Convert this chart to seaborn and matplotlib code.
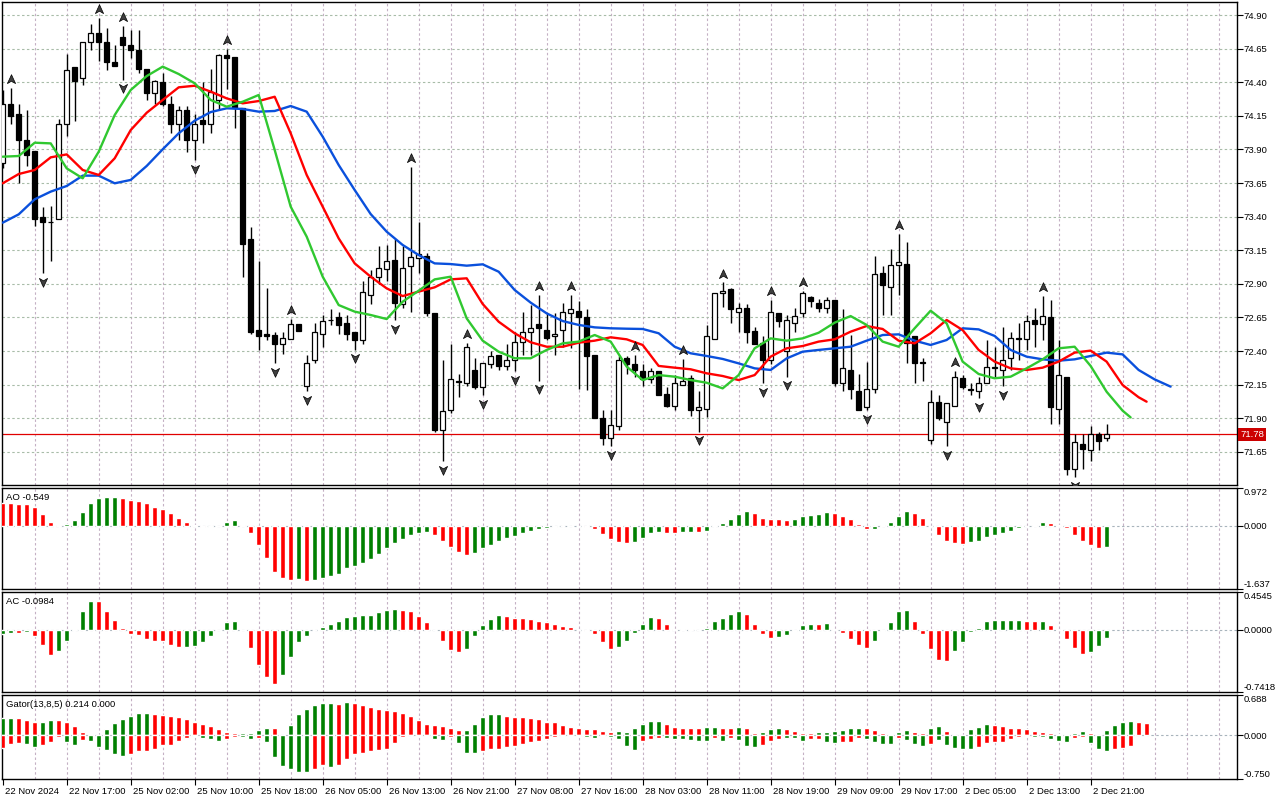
import numpy as np
import pandas as pd
import seaborn as sns
import matplotlib.pyplot as plt
from matplotlib.path import Path
from matplotlib.transforms import ScaledTranslation, blended_transform_factory

sns.set_style("white")
plt.rcParams['font.family'] = ['Liberation Sans', 'DejaVu Sans']

# hourly candles
opens = [73.80, 74.24, 74.16, 73.97, 73.89, 73.40, 73.36, 73.38, 74.09, 74.51,
         74.43, 74.70, 74.77, 74.70, 74.55, 74.74, 74.68, 74.64, 74.50, 74.32,
         74.40, 74.24, 74.09, 74.19, 73.97, 74.12, 74.09, 74.27, 74.60, 74.59,
         74.21, 73.23, 72.56, 72.53, 72.52, 72.45, 72.49, 72.60, 72.14, 72.33,
         72.53, 72.63, 72.65, 72.61, 72.54, 72.48, 72.82, 72.95, 73.01, 73.08,
         72.75, 73.03, 73.09, 73.11, 72.68, 71.81, 71.96, 72.18, 72.16, 72.26,
         72.13, 72.30, 72.37, 72.29, 72.33, 72.47, 72.54, 72.60, 72.56, 72.51,
         72.56, 72.68, 72.70, 72.65, 72.37, 71.90, 71.75, 71.84, 72.35, 72.30,
         72.25, 72.19, 72.25, 72.08, 71.99, 72.15, 72.20, 71.96, 71.97, 72.49,
         72.83, 72.86, 72.69, 72.72, 72.55, 72.46, 72.33, 72.68, 72.40, 72.61,
         72.68, 72.80, 72.76, 72.72, 72.78, 72.16, 72.26, 72.10, 71.98, 72.12,
         72.98, 72.88, 73.04, 73.05, 72.51, 72.32, 71.74, 72.02, 71.87, 71.99,
         72.20, 72.12, 72.10, 72.16, 72.27, 72.26, 72.35, 72.50, 72.49, 72.63,
         72.60, 72.65, 71.97, 72.21, 71.52, 71.71, 71.66, 71.78, 71.75]
highs = [74.34, 74.36, 74.24, 74.19, 73.89, 73.47, 73.48, 74.13, 74.61, 74.51,
         74.70, 74.83, 74.88, 74.80, 74.68, 74.82, 74.79, 74.79, 74.50, 74.42,
         74.47, 74.30, 74.22, 74.22, 74.16, 74.40, 74.50, 74.61, 74.65, 74.59,
         74.21, 73.32, 73.07, 72.87, 72.54, 72.54, 72.64, 72.60, 72.37, 72.61,
         72.67, 72.71, 72.69, 72.67, 72.54, 72.92, 73.00, 73.18, 73.19, 73.23,
         73.18, 73.77, 73.36, 73.13, 72.68, 72.33, 72.45, 72.23, 72.46, 72.35,
         72.31, 72.40, 72.37, 72.45, 72.54, 72.69, 72.74, 72.82, 72.68, 72.68,
         72.76, 72.82, 72.77, 72.71, 72.37, 71.96, 71.96, 72.36, 72.36, 72.37,
         72.30, 72.27, 72.25, 72.13, 72.22, 72.34, 72.22, 72.10, 72.59, 72.83,
         72.91, 72.87, 72.76, 72.75, 72.58, 72.51, 72.78, 72.68, 72.67, 72.72,
         72.85, 72.81, 72.79, 72.80, 72.78, 72.71, 72.52, 72.23, 72.32, 73.11,
         73.03, 73.16, 73.27, 73.21, 72.51, 72.35, 72.11, 72.07, 72.01, 72.25,
         72.22, 72.16, 72.21, 72.48, 72.43, 72.58, 72.54, 72.61, 72.67, 72.72,
         72.81, 72.78, 72.48, 72.21, 71.78, 71.78, 71.84, 71.80, 71.86]
lows = [73.76, 74.09, 73.65, 73.78, 73.33, 72.98, 73.07, 73.38, 74.00, 74.11,
        74.38, 74.64, 74.56, 74.49, 74.52, 74.42, 74.58, 74.47, 74.27, 74.24,
        74.22, 74.02, 73.97, 73.88, 73.82, 73.95, 74.02, 74.19, 74.35, 74.06,
        72.95, 72.53, 72.41, 72.48, 72.31, 72.38, 72.49, 72.55, 72.10, 72.31,
        72.43, 72.59, 72.53, 72.48, 72.41, 72.45, 72.75, 72.90, 72.92, 72.63,
        72.72, 72.69, 72.98, 72.66, 71.80, 71.58, 71.94, 72.06, 72.14, 72.12,
        72.07, 72.27, 72.26, 72.26, 72.25, 72.37, 72.37, 72.18, 72.48, 72.37,
        72.43, 72.42, 72.12, 72.11, 71.90, 71.70, 71.69, 71.81, 72.23, 72.21,
        72.14, 72.16, 72.07, 71.98, 71.96, 72.15, 71.92, 71.80, 71.91, 72.49,
        72.73, 72.61, 72.54, 72.46, 72.45, 72.16, 72.30, 72.58, 72.21, 72.54,
        72.65, 72.73, 72.69, 72.68, 72.14, 72.10, 72.04, 71.96, 71.96, 72.09,
        72.67, 72.67, 72.82, 72.31, 72.16, 72.18, 71.71, 71.89, 71.69, 71.99,
        72.12, 72.07, 72.05, 72.16, 72.21, 72.14, 72.26, 72.33, 72.41, 72.43,
        72.48, 71.86, 71.86, 71.48, 71.46, 71.52, 71.58, 71.66, 71.73]
closes = [74.24, 74.15, 73.97, 73.86, 73.38, 73.36, 73.36, 74.09, 74.49, 74.41,
          74.70, 74.77, 74.70, 74.55, 74.52, 74.68, 74.64, 74.50, 74.32, 74.41,
          74.24, 74.09, 74.19, 73.97, 74.09, 74.09, 74.33, 74.60, 74.58, 74.21,
          73.20, 72.54, 72.51, 72.51, 72.45, 72.50, 72.60, 72.55, 72.31, 72.54,
          72.62, 72.63, 72.59, 72.53, 72.48, 72.84, 72.95, 73.02, 73.07, 72.76,
          73.02, 73.10, 73.12, 72.68, 71.81, 71.95, 72.19, 72.17, 72.43, 72.13,
          72.31, 72.36, 72.29, 72.33, 72.47, 72.54, 72.57, 72.57, 72.50, 72.53,
          72.69, 72.71, 72.65, 72.36, 71.90, 71.75, 71.85, 72.33, 72.30, 72.26,
          72.19, 72.25, 72.07, 71.99, 72.16, 72.18, 71.96, 71.98, 72.51, 72.83,
          72.85, 72.71, 72.72, 72.54, 72.45, 72.33, 72.69, 72.62, 72.63, 72.66,
          72.83, 72.77, 72.72, 72.78, 72.16, 72.27, 72.12, 71.96, 72.12, 72.97,
          72.89, 73.04, 73.06, 72.46, 72.31, 72.31, 72.02, 71.90, 72.01, 72.21,
          72.13, 72.11, 72.16, 72.28, 72.28, 72.33, 72.50, 72.49, 72.62, 72.60,
          72.66, 71.98, 72.22, 71.52, 71.72, 71.67, 71.78, 71.73, 71.78]

# Alligator lines, sampled every 2 bars (shifted forward past the last candle)
jaw_bars = list(range(0, 147, 2))
jaw = [73.355, 73.417, 73.529, 73.586, 73.628, 73.705, 73.705, 73.648, 73.673, 73.777,
       73.901, 74.020, 74.114, 74.178, 74.206, 74.201, 74.181, 74.186, 74.223, 74.181,
       73.995, 73.784, 73.598, 73.419, 73.288, 73.189, 73.114, 73.052, 73.047, 73.035,
       73.045, 72.990, 72.854, 72.760, 72.680, 72.623, 72.594, 72.576, 72.569, 72.566,
       72.564, 72.532, 72.432, 72.383, 72.363, 72.341, 72.308, 72.271, 72.259, 72.345,
       72.395, 72.408, 72.420, 72.432, 72.477, 72.519, 72.524, 72.477, 72.445, 72.482,
       72.569, 72.561, 72.512, 72.408, 72.358, 72.338, 72.328, 72.338, 72.363, 72.388,
       72.375, 72.259, 72.189, 72.135]
teeth_bars = list(range(0, 143, 2)) + [143]
teeth = [73.648, 73.717, 73.747, 73.841, 73.863, 73.747, 73.710, 73.834, 74.044, 74.173,
         74.268, 74.362, 74.374, 74.330, 74.280, 74.243, 74.260, 74.292, 74.020, 73.710,
         73.474, 73.238, 73.052, 72.953, 72.866, 72.809, 72.842, 72.874, 72.933, 72.941,
         72.750, 72.618, 72.532, 72.465, 72.432, 72.432, 72.462, 72.477, 72.502, 72.487,
         72.445, 72.289, 72.276, 72.264, 72.234, 72.214, 72.184, 72.221, 72.358, 72.420,
         72.437, 72.470, 72.487, 72.544, 72.586, 72.564, 72.477, 72.457, 72.532, 72.631,
         72.556, 72.408, 72.321, 72.271, 72.259, 72.276, 72.321, 72.388, 72.403, 72.321,
         72.147, 72.056, 72.023]
lips_bars = list(range(0, 141, 2)) + [141]
lips = [73.846, 73.851, 73.950, 73.945, 73.759, 73.685, 73.883, 74.156, 74.342, 74.446,
        74.516, 74.461, 74.392, 74.268, 74.218, 74.255, 74.305, 73.896, 73.474, 73.251,
        72.953, 72.742, 72.693, 72.668, 72.638, 72.767, 72.849, 72.933, 72.953, 72.643,
        72.477, 72.395, 72.346, 72.346, 72.408, 72.457, 72.470, 72.519, 72.470, 72.284,
        72.184, 72.221, 72.209, 72.184, 72.164, 72.122, 72.221, 72.420, 72.494, 72.477,
        72.494, 72.536, 72.611, 72.660, 72.594, 72.470, 72.432, 72.569, 72.700, 72.606,
        72.321, 72.229, 72.197, 72.209, 72.271, 72.338, 72.420, 72.432, 72.289, 72.097,
        71.956, 71.906]

fractal_up = [1, 12, 15, 28, 36, 51, 58, 67, 71, 79, 85, 90, 96, 100, 112, 119, 130]
fractal_down = [5, 15, 24, 34, 38, 44, 49, 55, 60, 64, 67, 76, 87, 95, 98, 108, 118, 122, 125, 134]

# Awesome Oscillator
ao = [0.58, 0.58, 0.546, 0.546, 0.477, 0.29, 0.094, 0.01, 0.034, 0.136,
      0.35, 0.58, 0.725, 0.73, 0.75, 0.725, 0.665, 0.63, 0.58, 0.494,
      0.418, 0.315, 0.188, 0.085, 0.01, -0.034, -0.026, -0.008, 0.085, 0.136,
      0.026, -0.19, -0.50, -0.83, -1.185, -1.34, -1.40, -1.37, -1.42, -1.40,
      -1.34, -1.29, -1.245, -1.10, -1.03, -0.955, -0.85, -0.733, -0.571, -0.44,
      -0.333, -0.247, -0.188, -0.162, -0.247, -0.392, -0.546, -0.673, -0.759, -0.70,
      -0.571, -0.503, -0.392, -0.315, -0.264, -0.188, -0.136, -0.085, -0.051, -0.034,
      -0.009, -0.006, -0.01, -0.034, -0.085, -0.213, -0.358, -0.418, -0.443, -0.418,
      -0.315, -0.179, -0.162, -0.188, -0.19, -0.162, -0.160, -0.165, -0.136, 0.026,
      0.06, 0.162, 0.29, 0.367, 0.315, 0.205, 0.162, 0.16, 0.136, 0.162,
      0.24, 0.264, 0.29, 0.341, 0.315, 0.24, 0.162, 0.034, -0.085, -0.084,
      0.008, 0.085, 0.24, 0.367, 0.315, 0.188, -0.01, -0.247, -0.392, -0.443,
      -0.477, -0.418, -0.392, -0.29, -0.247, -0.188, -0.136, -0.06, -0.004, 0.026,
      0.085, 0.077, 0.026, -0.06, -0.247, -0.392, -0.503, -0.565, -0.549]
ao_colors = ("rrrrrrrrgg" "gggggrrrrr" "rrrrrrgggg" "rrrrrrrgrg" "gggggggggg"
             "ggggrrrrrg" "gggggggggg" "ggrrrrrrrg" "gggrrggrgg" "ggggrrrrrg"
             "ggggrrrrrg" "ggggrrrrrr" "rggggggggg" "grrrrrrrg")

# Accelerator Oscillator
ac = [-0.044, -0.04, -0.04, -0.028, -0.076, -0.183, -0.295, -0.255, -0.136, 0.016,
      0.223, 0.351, 0.351, 0.231, 0.124, 0.024, -0.044, -0.064, -0.104, -0.128,
      -0.136, -0.183, -0.207, -0.207, -0.195, -0.148, -0.076, -0.004, 0.092, 0.112,
      0.005, -0.215, -0.423, -0.566, -0.642, -0.542, -0.327, -0.144, -0.076, -0.004,
      0.036, 0.076, 0.104, 0.159, 0.171, 0.175, 0.183, 0.219, 0.243, 0.255,
      0.243, 0.231, 0.171, 0.10, -0.002, -0.136, -0.235, -0.267, -0.223, -0.076,
      0.064, 0.132, 0.183, 0.171, 0.148, 0.148, 0.132, 0.112, 0.092, 0.076,
      0.052, 0.04, 0.004, -0.016, -0.048, -0.148, -0.223, -0.199, -0.128, -0.04,
      0.076, 0.159, 0.148, 0.076, 0.016, 0.016, 0.016, 0.004, 0.028, 0.104,
      0.148, 0.195, 0.231, 0.195, 0.076, -0.052, -0.10, -0.088, -0.064, -0.016,
      0.064, 0.076, 0.076, 0.088, 0.016, -0.04, -0.112, -0.183, -0.219, -0.136,
      -0.016, 0.10, 0.231, 0.243, 0.112, -0.052, -0.231, -0.355, -0.375, -0.255,
      -0.148, -0.028, 0.024, 0.112, 0.124, 0.124, 0.124, 0.124, 0.112, 0.112,
      0.112, 0.064, 0.002, -0.112, -0.219, -0.291, -0.267, -0.195, -0.098]
ac_colors = ("ggrgrrrggg" "ggrrrrrrrr" "rrrggggggg" "rrrrrggggg" "gggggggggg"
             "rrrrrrrrgg" "gggrrrrrrr" "rrrrrrrggg" "ggrrrgrrgg" "gggrrrrggg"
             "ggrgrrrrrg" "ggggrrrrrg" "ggggggggrr" "grrrrrggg")

# Gator oscillator
gator_up = [0.288, 0.288, 0.288, 0.259, 0.219, 0.219, 0.259, 0.259, 0.230, 0.150,
            0.058, 0.017, 0.005, 0.104, 0.207, 0.271, 0.328, 0.374, 0.374, 0.357,
            0.345, 0.328, 0.311, 0.271, 0.230, 0.190, 0.161, 0.104, 0.058, 0.029,
            0.035, 0.046, 0.086, 0.115, 0.115, 0.005, 0.173, 0.357, 0.449, 0.518,
            0.547, 0.547, 0.535, 0.564, 0.547, 0.518, 0.489, 0.449, 0.432, 0.415,
            0.380, 0.334, 0.259, 0.190, 0.173, 0.161, 0.121, 0.081, 0.086, 0.190,
            0.317, 0.357, 0.357, 0.328, 0.311, 0.305, 0.288, 0.271, 0.230, 0.219,
            0.173, 0.138, 0.115, 0.104, 0.104, 0.069, 0.052, 0.069, 0.058, 0.115,
            0.190, 0.242, 0.242, 0.190, 0.138, 0.121, 0.121, 0.121, 0.138, 0.138,
            0.121, 0.121, 0.138, 0.121, 0.040, 0.052, 0.104, 0.121, 0.104, 0.069,
            0.035, 0.035, 0.052, 0.052, 0.069, 0.086, 0.121, 0.121, 0.121, 0.086,
            0.040, 0.023, 0.052, 0.086, 0.052, 0.035, 0.121, 0.155, 0.069, 0.005,
            0.005, 0.098, 0.138, 0.190, 0.173, 0.161, 0.121, 0.121, 0.104, 0.069,
            0.052, 0.035, 0.017, 0.017, 0.035, 0.069, 0.035, 0.005, 0.081, 0.173,
            0.219, 0.236, 0.219, 0.207]
gator_up_colors = ("ggrrrggrrr" "rrgggggggr" "rrrrrrrrrr" "ggggrrgggg" "ggrgrrrrrr"
                   "rrrrrrrrgg" "gggrrrrrrr" "rrrrrrrggg" "gggrrrrrgg" "rrgrrgggrr"
                   "rrggggggrr" "rrggrrggrr" "rgggrrrrrr" "rrrgggrrgg" "ggrr")
gator_down = [-0.219, -0.144, -0.127, -0.144, -0.201, -0.161, -0.115, -0.029, -0.115, -0.161,
              -0.081, -0.098, -0.201, -0.259, -0.317, -0.357, -0.322, -0.276, -0.271, -0.242,
              -0.173, -0.161, -0.098, -0.040, -0.012, -0.040, -0.069, -0.098, -0.058, -0.029,
              -0.035, -0.069, -0.046, -0.115, -0.374, -0.535, -0.576, -0.622, -0.633, -0.587,
              -0.518, -0.547, -0.507, -0.415, -0.317, -0.299, -0.271, -0.259, -0.230, -0.132,
              -0.029, -0.005, -0.012, -0.012, -0.069, -0.086, -0.029, -0.132, -0.305, -0.305,
              -0.271, -0.230, -0.230, -0.201, -0.184, -0.150, -0.115, -0.104, -0.058, -0.029,
              -0.012, -0.012, -0.012, -0.029, -0.040, -0.012, -0.029, -0.069, -0.184, -0.259,
              -0.104, -0.058, -0.040, -0.046, -0.069, -0.069, -0.086, -0.104, -0.104, -0.046,
              -0.104, -0.046, -0.086, -0.184, -0.201, -0.161, -0.104, -0.058, -0.046, -0.046,
              -0.104, -0.069, -0.058, -0.115, -0.132, -0.115, -0.115, -0.046, -0.058, -0.115,
              -0.144, -0.150, -0.046, -0.086, -0.150, -0.184, -0.150, -0.086, -0.173, -0.219,
              -0.230, -0.230, -0.201, -0.132, -0.115, -0.115, -0.069, -0.029, -0.012, -0.029,
              -0.029, -0.069, -0.104, -0.115, -0.040, -0.029, -0.132, -0.230, -0.271, -0.230,
              -0.219, -0.184]
gator_down_colors = ("rrrggrrrgg" "rgggggrrrr" "rrrrrgggrr" "ggrggggggr" "rgrrrrrrrr"
                     "rrrgggrggg" "rrrrrrrrrr" "rrgggrgggg" "rrrggggggr" "grgggrrrgg"
                     "grrggrrrgg" "ggrgggrggg" "ggrrrrrrrg" "ggggrrgggr" "rr")

price_ticks = [71.65, 71.90, 72.15, 72.40, 72.65, 72.90, 73.15, 73.40, 73.65, 73.90,
               74.15, 74.40, 74.65, 74.90]
last_price = 71.78
time_bars = [0, 8, 16, 24, 32, 40, 48, 56, 64, 72, 80, 88, 96, 104, 112, 120, 128, 136]
time_labels = ["22 Nov 2024", "22 Nov 17:00", "25 Nov 02:00", "25 Nov 10:00", "25 Nov 18:00",
               "26 Nov 05:00", "26 Nov 13:00", "26 Nov 21:00", "27 Nov 08:00", "27 Nov 16:00",
               "28 Nov 03:00", "28 Nov 11:00", "28 Nov 19:00", "29 Nov 09:00", "29 Nov 17:00",
               "2 Dec 05:00", "2 Dec 13:00", "2 Dec 21:00"]

GREEN, RED = '#008000', '#ff0000'
pal = {'g': GREEN, 'r': RED}
FS = 6.8

fig = plt.figure(figsize=(12.8, 8), dpi=100)
W, H = 1280, 800


def panel(left, top, right, bottom):
    return fig.add_axes([left / W, 1 - bottom / H, (right - left) / W, (bottom - top) / H])


ax_main = panel(2, 2, 1237, 485)
ax_ao = panel(2, 488, 1237, 589)
ax_ac = panel(2, 592, 1237, 692)
ax_gt = panel(2, 695, 1237, 779)
axes = [ax_main, ax_ao, ax_ac, ax_gt]

for ax in axes:
    ax.set_xlim(-0.09, 154.3)
    for s in ax.spines.values():
        s.set_color('black')
        s.set_linewidth(1.0)
    for g in range(4, 155, 4):
        ax.axvline(g, color='#c4b0c4', lw=0.8, ls=(0, (2.2, 2.2)), zorder=0)
    ax.yaxis.tick_right()
    ax.tick_params(axis='y', length=4, width=0.8, pad=1, labelsize=FS, colors='black',
                   direction='out', right=True, left=False)
    ax.tick_params(axis='x', bottom=False, labelbottom=False)

# ---- main price panel
ax_main.set_ylim(71.403, 74.997)
ax_main.set_yticks(price_ticks)
ax_main.set_yticklabels([f"{p:.2f}" for p in price_ticks])
for p in price_ticks:
    ax_main.axhline(p, color='#a8bca8', lw=0.8, ls=(0, (2.2, 2.2)), zorder=0)

x = np.arange(len(opens))
o, hi, lo, c = (np.array(v) for v in (opens, highs, lows, closes))
bull = c >= o
ax_main.axhline(last_price, color='#e00000', lw=0.9, zorder=1.5)
ax_main.vlines(x, lo, hi, color='black', lw=1.0, zorder=3)
ax_main.bar(x, np.abs(c - o), bottom=np.minimum(o, c), width=0.62,
            color=np.where(bull, 'white', 'black'), edgecolor='black', linewidth=0.9, zorder=4)

lines = pd.concat([
    pd.DataFrame({'bar': jaw_bars, 'price': jaw, 'line': 'Jaw'}),
    pd.DataFrame({'bar': teeth_bars, 'price': teeth, 'line': 'Teeth'}),
    pd.DataFrame({'bar': lips_bars, 'price': lips, 'line': 'Lips'}),
])
sns.lineplot(data=lines, x='bar', y='price', hue='line', sort=False, estimator=None,
             palette={'Jaw': '#0a50dc', 'Teeth': '#ff0000', 'Lips': '#30c830'},
             linewidth=1.7, legend=False, ax=ax_main, zorder=5)
ax_main.set_xlabel('')
ax_main.set_ylabel('')

arrow_up = Path([(0, 1), (0.85, -0.85), (0, -0.35), (-0.85, -0.85), (0, 1)],
                [Path.MOVETO, Path.LINETO, Path.LINETO, Path.LINETO, Path.CLOSEPOLY])
arrow_dn = Path([(0, -1), (0.85, 0.85), (0, 0.35), (-0.85, 0.85), (0, -1)],
                [Path.MOVETO, Path.LINETO, Path.LINETO, Path.LINETO, Path.CLOSEPOLY])
ax_main.scatter(fractal_up, hi[fractal_up] + 0.065, marker=arrow_up, s=48,
                facecolor='#404040', edgecolor='black', linewidths=0.5, zorder=6)
ax_main.scatter(fractal_down, lo[fractal_down] - 0.065, marker=arrow_dn, s=48,
                facecolor='#404040', edgecolor='black', linewidths=0.5, zorder=6)

trans = blended_transform_factory(ax_main.transAxes, ax_main.transData)
ax_main.text(1 + 3 / 1235, last_price, f"{last_price:.2f}", transform=trans, ha='left',
             va='center', color='white', fontsize=FS, clip_on=False, zorder=10,
             bbox=dict(boxstyle='square,pad=0.22', fc='#cc0000', ec='none'))


# ---- indicator panels
def indicator(ax, bars_x, vals, cols, lo_lim, hi_lim, fmt, title, title_y):
    ax.set_ylim(lo_lim, hi_lim)
    ax.axhline(0, color='#a8b4bc', lw=0.8, ls=(0, (2.2, 2.2)), zorder=1)
    ax.bar(bars_x, vals, width=0.6, color=[pal[k] for k in cols], zorder=3)
    ticks = [lo_lim, 0.0, hi_lim]
    ax.set_yticks(ticks)
    ax.set_yticklabels([fmt.format(t) for t in ticks])
    labs = ax.get_yticklabels()
    labs[0].set_va('bottom')
    labs[2].set_va('top')
    if title:
        ax.text(4 / 1235, title_y, title, transform=ax.transAxes, fontsize=FS,
                ha='left', va='center', color='black')


indicator(ax_ao, x, ao, ao_colors, -1.637, 0.972, "{:.3f}", "AO -0.549", 0.91)
indicator(ax_ac, x, ac, ac_colors, -0.7418, 0.4545, "{:.4f}", "AC -0.0984", 0.90)
indicator(ax_gt, np.arange(len(gator_up)), gator_up, gator_up_colors, -0.750, 0.688,
          "{:.3f}", "Gator(13,8,5) 0.214 0.000", 0.885)
ax_gt.bar(np.arange(len(gator_down)), gator_down, width=0.6,
          color=[pal[k] for k in gator_down_colors], zorder=3)

# time axis
ax_gt.tick_params(axis='x', bottom=True, labelbottom=True, length=4, width=0.8,
                  pad=2, labelsize=FS, colors='black', direction='out')
ax_gt.set_xticks(time_bars)
ax_gt.set_xticklabels(time_labels, ha='left')
shift = ScaledTranslation(2 / 100, 0, fig.dpi_scale_trans)
for lbl in ax_gt.get_xticklabels():
    lbl.set_transform(lbl.get_transform() + shift)

fig.savefig('out.png', dpi=100, facecolor='white')
